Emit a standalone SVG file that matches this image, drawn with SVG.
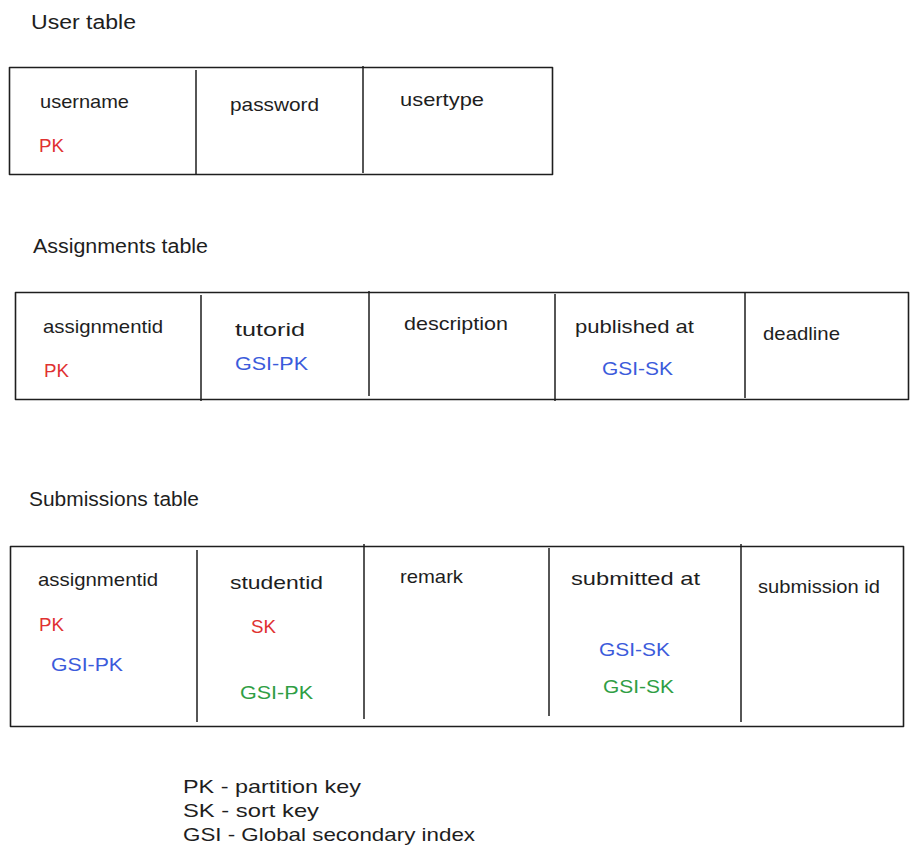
<svg xmlns="http://www.w3.org/2000/svg" width="917" height="858" viewBox="0 0 917 858">
<style>
  text { font-family: "Liberation Sans", "DejaVu Sans", sans-serif; font-size: 19px; fill: #1e1e1e; }
  .title { font-size: 20px; }
  .red { fill: #e03131; }
  .blue { fill: #3b5bdb; }
  .green { fill: #2f9e44; }
  .box { fill: none; stroke: #1e1e1e; stroke-width: 1.6; stroke-linejoin: round; }
  .div { stroke: #1e1e1e; stroke-width: 1.5; }
</style>
<rect width="917" height="858" fill="#ffffff"/>

<g id="user-table">
  <text class="title" x="31" y="29" textLength="105" lengthAdjust="spacingAndGlyphs">User table</text>
  <rect class="box" x="9.5" y="67.5" width="543" height="107"/>
  <line class="div" x1="196" y1="70" x2="196" y2="175"/>
  <line class="div" x1="363" y1="66" x2="363" y2="173"/>
  <text x="40" y="108" textLength="89" lengthAdjust="spacingAndGlyphs">username</text>
  <text class="red" x="39" y="152" textLength="25" lengthAdjust="spacingAndGlyphs">PK</text>
  <text x="230" y="111" textLength="89" lengthAdjust="spacingAndGlyphs">password</text>
  <text x="400" y="106" textLength="84" lengthAdjust="spacingAndGlyphs">usertype</text>
</g>

<g id="assignments-table">
  <text class="title" x="33" y="253" textLength="175" lengthAdjust="spacingAndGlyphs">Assignments table</text>
  <rect class="box" x="15.5" y="292.5" width="893" height="107"/>
  <line class="div" x1="201" y1="295" x2="201" y2="401"/>
  <line class="div" x1="369" y1="291" x2="369" y2="396"/>
  <line class="div" x1="555" y1="294" x2="555" y2="401"/>
  <line class="div" x1="745" y1="292" x2="745" y2="398"/>
  <text x="43" y="333" textLength="120" lengthAdjust="spacingAndGlyphs">assignmentid</text>
  <text class="red" x="44" y="377" textLength="25" lengthAdjust="spacingAndGlyphs">PK</text>
  <text x="235" y="336" textLength="70" lengthAdjust="spacingAndGlyphs">tutorid</text>
  <text class="blue" x="235" y="370" textLength="73" lengthAdjust="spacingAndGlyphs">GSI-PK</text>
  <text x="404" y="330" textLength="104" lengthAdjust="spacingAndGlyphs">description</text>
  <text x="575" y="333" textLength="119" lengthAdjust="spacingAndGlyphs">published at</text>
  <text class="blue" x="602" y="375" textLength="71" lengthAdjust="spacingAndGlyphs">GSI-SK</text>
  <text x="763" y="340" textLength="77" lengthAdjust="spacingAndGlyphs">deadline</text>
</g>

<g id="submissions-table">
  <text class="title" x="29" y="506" textLength="170" lengthAdjust="spacingAndGlyphs">Submissions table</text>
  <rect class="box" x="10.5" y="546.5" width="893" height="180"/>
  <line class="div" x1="197" y1="550" x2="197" y2="722"/>
  <line class="div" x1="364" y1="544" x2="364" y2="719"/>
  <line class="div" x1="549" y1="548" x2="549" y2="716"/>
  <line class="div" x1="741" y1="544" x2="741" y2="722"/>
  <text x="38" y="586" textLength="120" lengthAdjust="spacingAndGlyphs">assignmentid</text>
  <text class="red" x="39" y="631" textLength="25" lengthAdjust="spacingAndGlyphs">PK</text>
  <text class="blue" x="51" y="671" textLength="72" lengthAdjust="spacingAndGlyphs">GSI-PK</text>
  <text x="230" y="589" textLength="93" lengthAdjust="spacingAndGlyphs">studentid</text>
  <text class="red" x="251" y="633" textLength="25" lengthAdjust="spacingAndGlyphs">SK</text>
  <text class="green" x="240" y="699" textLength="73" lengthAdjust="spacingAndGlyphs">GSI-PK</text>
  <text x="400" y="583" textLength="63" lengthAdjust="spacingAndGlyphs">remark</text>
  <text x="571" y="585" textLength="129" lengthAdjust="spacingAndGlyphs">submitted at</text>
  <text class="blue" x="599" y="656" textLength="71" lengthAdjust="spacingAndGlyphs">GSI-SK</text>
  <text class="green" x="603" y="693" textLength="71" lengthAdjust="spacingAndGlyphs">GSI-SK</text>
  <text x="758" y="593" textLength="122" lengthAdjust="spacingAndGlyphs">submission id</text>
</g>

<g id="legend">
  <text x="183" y="793" textLength="178" lengthAdjust="spacingAndGlyphs">PK - partition key</text>
  <text x="183" y="817" textLength="136" lengthAdjust="spacingAndGlyphs">SK - sort key</text>
  <text x="183" y="841" textLength="292" lengthAdjust="spacingAndGlyphs">GSI - Global secondary index</text>
</g>

<g id="connectors"></g>
</svg>
